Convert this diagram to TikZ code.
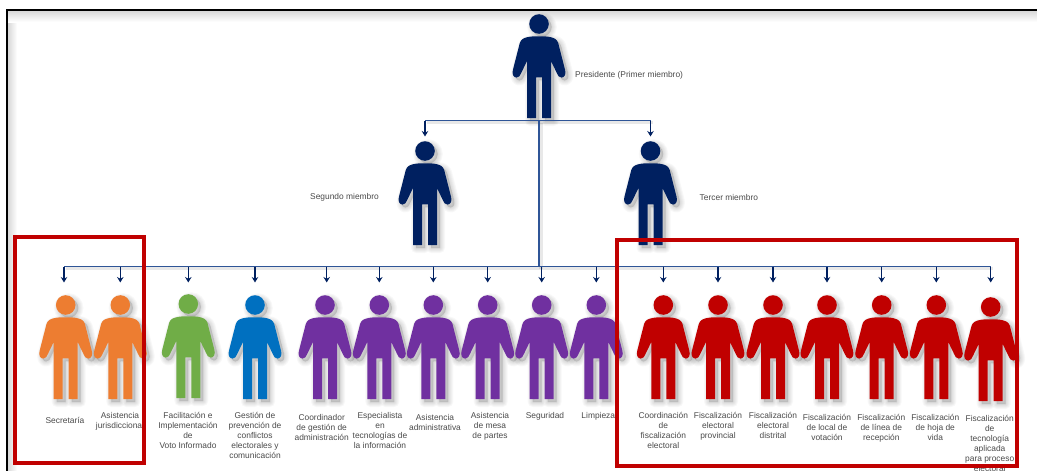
\documentclass[tikz,border=0pt]{standalone}
\usepackage{fontspec}
\setmainfont{Liberation Sans}
\usetikzlibrary{arrows.meta}
\definecolor{fignavy}{HTML}{002060}
\definecolor{figorange}{HTML}{ED7D31}
\definecolor{figgreen}{HTML}{70AD47}
\definecolor{figblue}{HTML}{0070C0}
\definecolor{figpurple}{HTML}{7030A0}
\definecolor{figred}{HTML}{C00000}
\definecolor{busline}{HTML}{2F5597}
\definecolor{labelgrey}{HTML}{4A4A4A}
\newcommand{\personpath}{(0,12.3) .. controls (5,12.3) and (9,12.4) .. (12.5,13.4)
    .. controls (16,14.4) and (18,15.5) .. (19.2,19) -- (26,45.5)
    .. controls (27.4,50) and (25.5,53.6) .. (22.6,53.6)
    .. controls (20.2,53.6) and (18.6,51.5) .. (17.8,49) -- (12,37) -- (12,94) -- (3,94) -- (3,53.3)
    -- (-3,53.3) -- (-3,94) -- (-12,94) -- (-12,37) -- (-17.8,49)
    .. controls (-18.6,51.5) and (-20.2,53.6) .. (-22.6,53.6)
    .. controls (-25.5,53.6) and (-27.4,50) .. (-26,45.5) -- (-19.2,19)
    .. controls (-18,15.5) and (-16,14.4) .. (-12.5,13.4)
    .. controls (-9,12.4) and (-5,12.3) .. (0,12.3) -- cycle}
\tikzset{
    pics/person/.style={code={
        % soft shadow
        \foreach \w in {10,8,6,4,2} {
            \draw[black, fill=black, opacity=0.028, line width=\w pt, line join=round, shift={(3,3)}] \personpath;
            \draw[black, fill=black, opacity=0.028, line width=\w pt, shift={(3,3)}] (0,0) circle (9.7);
        }
        \fill[#1] \personpath;
        \node[head, fill=#1] (-head) at (0,0) {};
    }}
}
\begin{document}
\begin{tikzpicture}[
    x=1pt, y=-1pt,
    head/.style={circle, inner sep=0pt, minimum size=19.6pt},
    tag/.style={inner sep=0pt, align=center, anchor=north, text=labelgrey,
        font=\fontsize{8.4}{10}\selectfont},
    sidetag/.style={inner sep=0pt, anchor=west, text=labelgrey,
        font=\fontsize{8.4}{10}\selectfont},
    bus/.style={busline, line width=1.2pt},
    busshadow/.style={black, opacity=0.09, line width=3.5pt},
    drop/.style={fignavy, line width=1.2pt, shorten >=12.5pt,
        -{Stealth[length=5.5pt, width=6.5pt]}},
    redbox/.style={figred, line width=4pt}
]
\useasboundingbox (0,0) rectangle (1037,471);
\fill[white] (0,0) rectangle (1037,471);

% outer frame with its inner shade
\shade[left color=black!15, right color=white] (8,11) rectangle (17,471);
\shade[top color=black!15, bottom color=white] (8,11) rectangle (1037,22);
\draw[black, line width=2pt] (1037,10) -- (7,10) -- (7,471);

% board
\pic (pres) at (539,24) {person=fignavy};
\pic (seg) at (425,151) {person=fignavy};
\pic (ter) at (650.5,151) {person=fignavy};

% left group
\pic (sec) at (65.7,305) {person=figorange};
\pic (jur) at (120.3,305) {person=figorange};
\pic (fac) at (188.3,304) {person=figgreen};
\pic (ges) at (255,305) {person=figblue};

% support staff
\pic (coo) at (325,305) {person=figpurple};
\pic (esp) at (379.3,305) {person=figpurple};
\pic (adm) at (433.3,305) {person=figpurple};
\pic (mes) at (487.7,305) {person=figpurple};
\pic (seu) at (541.7,305) {person=figpurple};
\pic (lim) at (596.3,305) {person=figpurple};

% right group
\pic (fis) at (663.3,305) {person=figred};
\pic (pro) at (718,305) {person=figred};
\pic (dis) at (773,305) {person=figred};
\pic (loc) at (827,305) {person=figred};
\pic (lin) at (881.7,305) {person=figred};
\pic (hoj) at (936.3,305) {person=figred};
\pic (tec) at (990.7,307) {person=figred};

\coordinate (topbus) at (539,120.7);
\coordinate (lowbus) at (539,266.7);
\coordinate (lowleft) at (64,266.7);
\coordinate (lowright) at (990.7,266.7);

% line shadows
\draw[busshadow] ([shift={(2,2)}]seg-head |- topbus) -- ([shift={(2,2)}]ter-head |- topbus);
\draw[busshadow] ([shift={(2,2)}]lowleft) -- ([shift={(2,2)}]lowright);
\draw[busshadow] ([shift={(2,2)}]topbus) -- ([shift={(2,2)}]lowbus);

\draw[bus] (seg-head |- topbus) -- (ter-head |- topbus);
\draw[bus] (topbus) -- (lowbus);
\draw[bus] (lowleft) -- (lowright);

\draw[drop, shorten >=4.5pt] (seg-head |- topbus) -- (seg-head);
\draw[drop, shorten >=4.5pt] (ter-head |- topbus) -- (ter-head);

\draw[drop] (lowleft) -- (lowleft |- sec-head.north);
\draw[drop] (jur-head |- lowbus) -- (jur-head);
\draw[drop, shorten >=11.5pt] (fac-head |- lowbus) -- (fac-head);
\draw[drop] (ges-head |- lowbus) -- (ges-head);
\draw[drop] ([xshift=1.7pt]coo-head |- lowbus) -- ([xshift=1.7pt]coo-head.north);
\draw[drop] (esp-head |- lowbus) -- (esp-head);
\draw[drop] (adm-head |- lowbus) -- (adm-head);
\draw[drop] (mes-head |- lowbus) -- (mes-head);
\draw[drop] (seu-head |- lowbus) -- (seu-head);
\draw[drop] (lim-head |- lowbus) -- (lim-head);
\draw[drop] (fis-head |- lowbus) -- (fis-head);
\draw[drop] (pro-head |- lowbus) -- (pro-head);
\draw[drop] (dis-head |- lowbus) -- (dis-head);
\draw[drop] (loc-head |- lowbus) -- (loc-head);
\draw[drop] (lin-head |- lowbus) -- (lin-head);
\draw[drop] (hoj-head |- lowbus) -- (hoj-head);
\draw[drop, shorten >=14.5pt] (tec-head |- lowbus) -- (tec-head);

% labels
\node[sidetag] (tpres) at (575,75) {Presidente (Primer miembro)};
\node[sidetag] (tseg) at (310,197) {Segundo miembro};
\node[sidetag] (tter) at (699.5,197) {Tercer miembro};

\node[tag] (tsec) at (65,417.5) {Secretaría};
\node[tag] (tjur) at (120,412.5) {Asistencia\\jurisdiccional};
\node[tag] (tfac) at (188,412.5) {Facilitación e\\Implementación\\de\\Voto Informado};
\node[tag] (tges) at (255,412.5) {Gestión de\\prevención de\\conflictos\\electorales y\\comunicación};
\node[tag] (tcoo) at (321.7,414) {Coordinador\\de gestión de\\administración};
\node[tag] (tesp) at (380,412.5) {Especialista\\en\\tecnologías de\\la información};
\node[tag] (tadm) at (435,414) {Asistencia\\administrativa};
\node[tag] (tmes) at (490,412.5) {Asistencia\\de mesa\\de partes};
\node[tag] (tseu) at (545,412.5) {Seguridad};
\node[tag] (tlim) at (598.3,412.5) {Limpieza};
\node[tag] (tfis) at (663.3,412.5) {Coordinación\\de\\fiscalización\\electoral};
\node[tag] (tpro) at (718,412.5) {Fiscalización\\electoral\\provincial};
\node[tag] (tdis) at (773,412.5) {Fiscalización\\electoral\\distrital};
\node[tag] (tloc) at (827,414) {Fiscalización\\de local de\\votación};
\node[tag] (tlin) at (881.3,414) {Fiscalización\\de línea de\\recepción};
\node[tag] (thoj) at (935.3,414) {Fiscalización\\de hoja de\\vida};
\node[tag] (ttec) at (989.7,415) {Fiscalización\\de\\tecnología\\aplicada\\para proceso\\electoral};

% red boxes
\draw[redbox] (15,237) rectangle (143.5,463);
\draw[redbox] (616.5,240) rectangle (1017,466);
\end{tikzpicture}
\end{document}
